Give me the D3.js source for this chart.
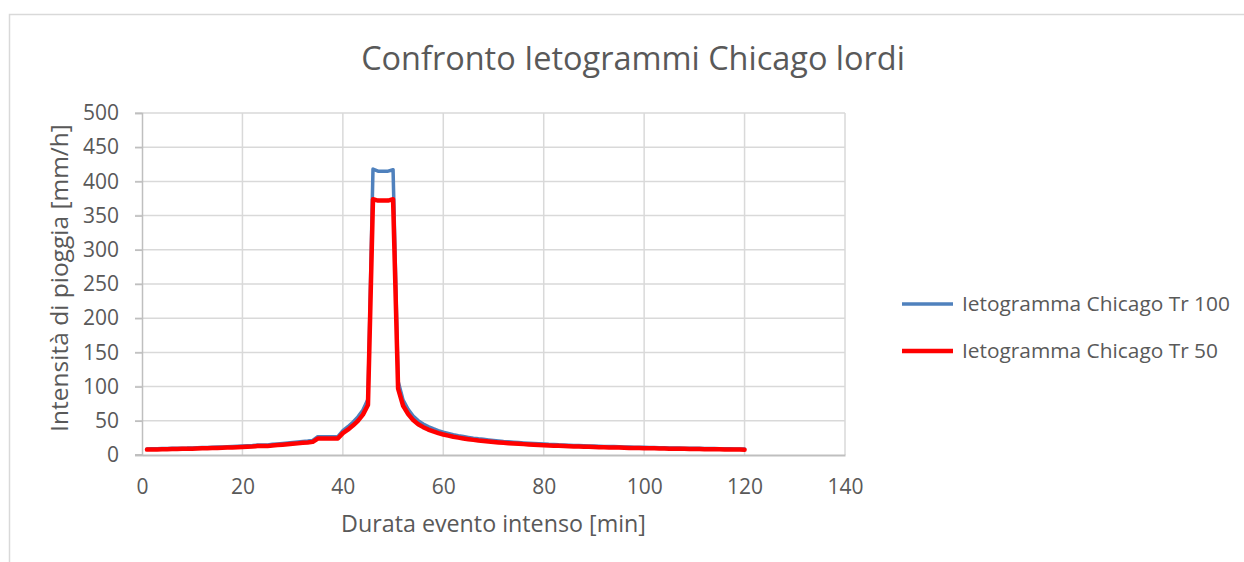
<!DOCTYPE html>
<html>
<head>
<meta charset="utf-8">
<script src="https://cdn.jsdelivr.net/npm/d3@7"></script>
<style>
  body { margin: 0; background: #ffffff; }
  text { font-family: "Open Sans", "Noto Sans", sans-serif; fill: #595959; }
</style>
</head>
<body>
<svg id="chart" width="1244" height="562"></svg>
<script>
// Chart texts
const chartTitle = "Confronto Ietogrammi Chicago lordi";
const xAxisTitle = "Durata evento intenso [min]";
const yAxisTitle = "Intensità di pioggia [mm/h]";
const seriesNames = ["Ietogramma Chicago Tr 100", "Ietogramma Chicago Tr 50"];
const seriesColors = ["#4f81bd", "#ff0000"];

// Axis ticks
const xTicks = [0, 20, 40, 60, 80, 100, 120, 140];
const yTicks = [0, 50, 100, 150, 200, 250, 300, 350, 400, 450, 500];

// Time steps [min]
const minutes = d3.range(1, 121);

// Rainfall intensity [mm/h], return period 100 years
const tr100 = [
  8.8, 9.0, 9.1, 9.4, 9.5, 9.7, 9.8, 10.0, 10.1, 10.4,
  10.6, 10.8, 11.0, 11.3, 11.6, 11.8, 12.2, 12.4, 12.7, 13.0,
  13.4, 13.8, 14.5, 14.5, 14.5, 15.6, 16.2, 16.8, 17.5, 18.2,
  19.0, 19.8, 20.5, 21.4, 26.8, 26.8, 26.8, 26.8, 27.0, 35.7,
  41.3, 47.9, 55.8, 65.8, 81.4, 418, 415, 415, 415, 417,
  108, 80.3, 66.9, 56.9, 50.2, 45.4, 41.5, 38.4, 35.7, 33.5,
  31.6, 29.8, 28.3, 27.0, 25.8, 24.6, 23.6, 22.9, 22.0, 21.2,
  20.5, 19.8, 19.3, 18.7, 18.2, 17.7, 17.3, 16.8, 16.4, 16.1,
  15.6, 15.3, 14.9, 14.7, 14.4, 14.0, 13.8, 13.6, 13.3, 13.0,
  12.8, 12.6, 12.4, 12.3, 12.0, 11.8, 11.6, 11.5, 11.3, 11.2,
  10.9, 10.8, 10.7, 10.6, 10.4, 10.3, 10.1, 10.0, 9.9, 9.8,
  9.7, 9.5, 9.5, 9.4, 9.3, 9.1, 9.0, 8.9, 8.8, 8.7
];

// Rainfall intensity [mm/h], return period 50 years
const tr50 = [
  7.9, 8.1, 8.2, 8.4, 8.5, 8.7, 8.8, 9.0, 9.1, 9.3,
  9.5, 9.7, 9.9, 10.1, 10.4, 10.6, 10.9, 11.1, 11.4, 11.7,
  12.0, 12.4, 13.0, 13.0, 13.0, 14.0, 14.5, 15.1, 15.7, 16.3,
  17.0, 17.8, 18.4, 19.2, 24.0, 24.0, 24.0, 24.0, 24.2, 32.0,
  37.0, 43.0, 50.0, 59.0, 73.0, 374, 372, 372, 372, 374,
  97, 72, 60, 51, 45, 40.7, 37.2, 34.4, 32.0, 30.0,
  28.3, 26.7, 25.4, 24.2, 23.1, 22.1, 21.2, 20.5, 19.7, 19.0,
  18.4, 17.8, 17.3, 16.8, 16.3, 15.9, 15.5, 15.1, 14.7, 14.4,
  14.0, 13.7, 13.4, 13.2, 12.9, 12.6, 12.4, 12.2, 11.9, 11.7,
  11.5, 11.3, 11.1, 11.0, 10.8, 10.6, 10.4, 10.3, 10.1, 10.0,
  9.8, 9.7, 9.6, 9.5, 9.3, 9.2, 9.1, 9.0, 8.9, 8.8,
  8.7, 8.5, 8.5, 8.4, 8.3, 8.2, 8.1, 8.0, 7.9, 7.8
];

const svg = d3.select("#chart");
const W = 1244, H = 562;
const plot = { left: 142, right: 845, top: 113, bottom: 455 };

// Fit a text element to a given width by adjusting its font size
function fitWidth(sel, target) {
  const fs = parseFloat(sel.attr("font-size"));
  const w = sel.node().getComputedTextLength();
  sel.attr("font-size", fs * target / w);
  return fs * target / w;
}

// Chart frame
svg.append("rect")
  .attr("x", 9.5).attr("y", 14.5)
  .attr("width", W + 20).attr("height", H + 20)
  .attr("fill", "#ffffff")
  .attr("stroke", "#d9d9d9").attr("stroke-width", 1.5);

const x = d3.scaleLinear().domain([0, 140]).range([plot.left, plot.right]);
const y = d3.scaleLinear().domain([0, 500]).range([plot.bottom, plot.top]);

// Gridlines
const grid = svg.append("g").attr("stroke", "#d9d9d9").attr("stroke-width", 1.5);
grid.selectAll("line.h").data(yTicks.filter(d => d > 0)).join("line")
  .attr("class", "h")
  .attr("x1", plot.left - 7).attr("x2", plot.right)
  .attr("y1", d => y(d)).attr("y2", d => y(d));
grid.selectAll("line.v").data(xTicks.filter(d => d > 0)).join("line")
  .attr("class", "v")
  .attr("x1", d => x(d)).attr("x2", d => x(d))
  .attr("y1", plot.top).attr("y2", plot.bottom);

// Y axis
const yAxis = svg.append("g")
  .attr("transform", `translate(${plot.left},0)`)
  .call(d3.axisLeft(y).tickValues(yTicks).tickSize(7).tickPadding(16));
yAxis.select(".domain").attr("stroke", "#bfbfbf").attr("stroke-width", 1.5);
yAxis.selectAll(".tick line").attr("stroke", "#bfbfbf").attr("stroke-width", 1.5);
yAxis.selectAll(".tick text").attr("font-size", 21).attr("font-family", null).attr("fill", "#595959");

// X axis
const xAxis = svg.append("g")
  .attr("transform", `translate(0,${plot.bottom})`)
  .call(d3.axisBottom(x).tickValues(xTicks).tickSize(0).tickPadding(24));
xAxis.select(".domain").attr("stroke", "#bfbfbf").attr("stroke-width", 2);
xAxis.selectAll(".tick text").attr("font-size", 21).attr("font-family", null).attr("fill", "#595959");
// axis baseline extends to the left like the value tick marks
svg.append("line")
  .attr("x1", plot.left - 7).attr("x2", plot.left)
  .attr("y1", y(0)).attr("y2", y(0))
  .attr("stroke", "#bfbfbf").attr("stroke-width", 2);

// Series
const series = [
  { name: seriesNames[0], values: tr100, color: seriesColors[0], width: 3.5 },
  { name: seriesNames[1], values: tr50, color: seriesColors[1], width: 4.5 }
];
const line = d3.line()
  .x((d, i) => x(minutes[i]))
  .y(d => y(d));
svg.append("g").selectAll("path").data(series).join("path")
  .attr("d", s => line(s.values))
  .attr("fill", "none")
  .attr("stroke", s => s.color)
  .attr("stroke-width", s => s.width)
  .attr("stroke-linejoin", "round")
  .attr("stroke-linecap", "round");

// Title
const t = svg.append("text")
  .attr("x", 633).attr("y", 70)
  .attr("text-anchor", "middle")
  .attr("font-size", 30)
  .text(chartTitle);
fitWidth(t, 544);

// Axis titles
const xt = svg.append("text")
  .attr("x", (plot.left + plot.right) / 2).attr("y", 532)
  .attr("text-anchor", "middle")
  .attr("font-size", 20)
  .text(xAxisTitle);
fitWidth(xt, 305);

const yt = svg.append("text")
  .attr("transform", `translate(68,278) rotate(-90)`)
  .attr("text-anchor", "middle")
  .attr("font-size", 20)
  .text(yAxisTitle);
fitWidth(yt, 308);

// Legend
const legend = svg.append("g");
const legendY = [304, 351];
const items = legend.selectAll("g").data(series).join("g")
  .attr("transform", (d, i) => `translate(0,${legendY[i]})`);
items.append("line")
  .attr("x1", 902).attr("x2", 953)
  .attr("stroke", d => d.color)
  .attr("stroke-width", d => d.width);
const labels = items.append("text")
  .attr("x", 962).attr("y", 0).attr("dy", "0.35em")
  .attr("font-size", 20)
  .text(d => d.name);
const fs = fitWidth(d3.select(labels.nodes()[0]), 268);
labels.attr("font-size", fs);
</script>
</body>
</html>
